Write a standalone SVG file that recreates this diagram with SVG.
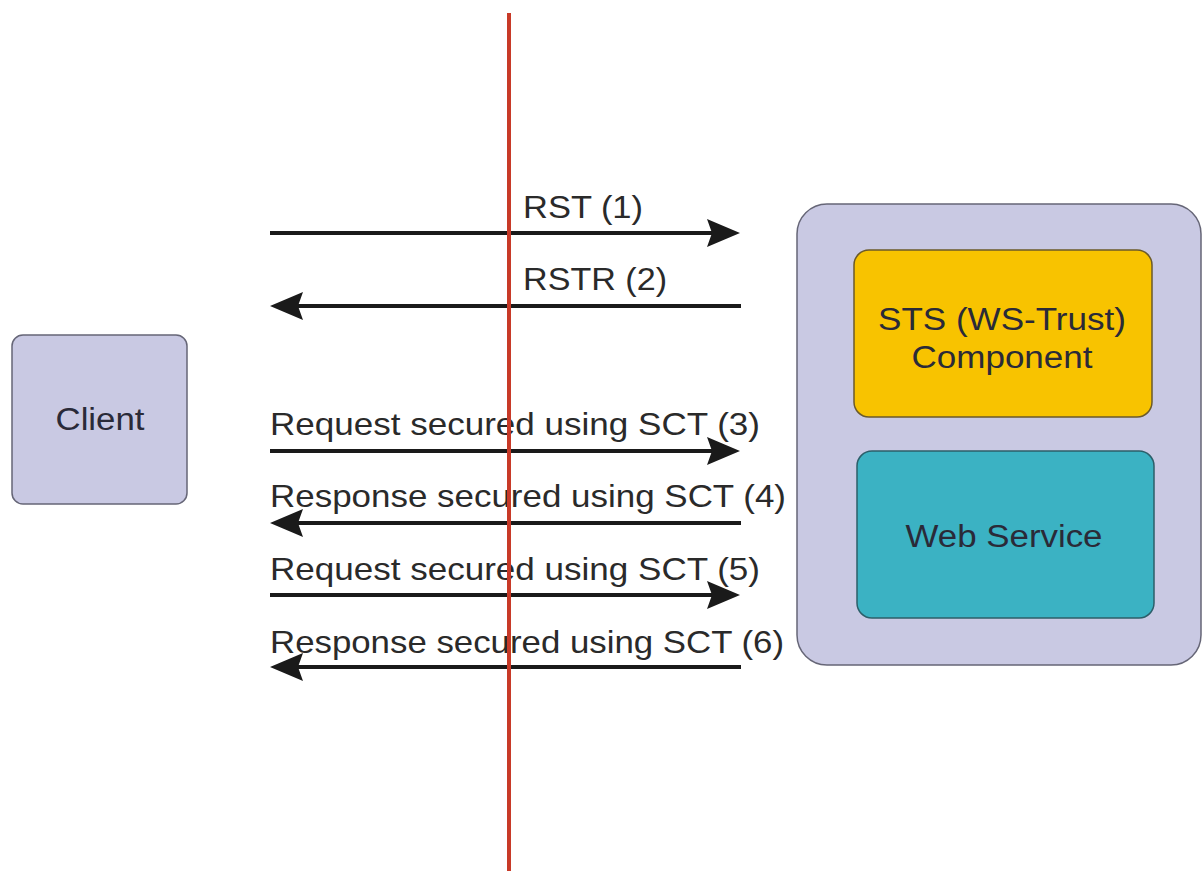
<svg xmlns="http://www.w3.org/2000/svg" width="1204" height="871" viewBox="0 0 1204 871">
<style>
.lbl{font-family:"Liberation Sans",Arial,sans-serif;font-size:32px;fill:#2a2a2a}
.ntext{font-family:"Liberation Sans",Arial,sans-serif;font-size:31px;fill:#2a2a38;text-anchor:middle}
.msg{stroke:#1a1a1a;stroke-width:4;fill:none}
</style>
<defs>
<marker id="ah" markerUnits="userSpaceOnUse" viewBox="0 -14 33 28" markerWidth="33" markerHeight="28" refX="13" refY="0" orient="auto">
<path d="M0,-14 L33,0 L0,14 L5,0 Z" fill="#1a1a1a"/>
</marker>
</defs>
<rect width="1204" height="871" fill="#ffffff"/>
<g id="client">
<rect x="12" y="335" width="175" height="169" rx="11" fill="#c9c9e3" stroke="#666677" stroke-width="1.5"/>
<text class="ntext" x="100" y="430" textLength="89" lengthAdjust="spacingAndGlyphs">Client</text>
</g>
<g id="server">
<rect x="797" y="204" width="404" height="461" rx="30" fill="#c9c9e3" stroke="#666677" stroke-width="1.5"/>
</g>
<g id="sts">
<rect x="854" y="250" width="298" height="167" rx="15" fill="#f8c300" stroke="#6b5a2a" stroke-width="1.5"/>
<text class="ntext" x="1002" y="330" textLength="248" lengthAdjust="spacingAndGlyphs">STS (WS-Trust)</text>
<text class="ntext" x="1002" y="368" textLength="181" lengthAdjust="spacingAndGlyphs">Component</text>
</g>
<g id="webservice">
<rect x="857" y="451" width="297" height="167" rx="15" fill="#3bb2c3" stroke="#2c5f6a" stroke-width="1.5"/>
<text class="ntext" x="1004" y="547" textLength="197" lengthAdjust="spacingAndGlyphs">Web Service</text>
</g>
<g id="connectors">
<line class="msg" x1="270" y1="233" x2="720" y2="233" marker-end="url(#ah)"/>
<line class="msg" x1="741" y1="306" x2="290" y2="306" marker-end="url(#ah)"/>
<line class="msg" x1="270" y1="451" x2="720" y2="451" marker-end="url(#ah)"/>
<line class="msg" x1="741" y1="523" x2="290" y2="523" marker-end="url(#ah)"/>
<line class="msg" x1="270" y1="595" x2="720" y2="595" marker-end="url(#ah)"/>
<line class="msg" x1="741" y1="667" x2="290" y2="667" marker-end="url(#ah)"/>
</g>
<g id="labels">
<text class="lbl" x="523" y="218" textLength="120" lengthAdjust="spacingAndGlyphs">RST (1)</text>
<text class="lbl" x="523" y="290" textLength="144" lengthAdjust="spacingAndGlyphs">RSTR (2)</text>
<text class="lbl" x="270" y="435" textLength="490" lengthAdjust="spacingAndGlyphs">Request secured using SCT (3)</text>
<text class="lbl" x="270" y="507" textLength="516" lengthAdjust="spacingAndGlyphs">Response secured using SCT (4)</text>
<text class="lbl" x="270" y="580" textLength="490" lengthAdjust="spacingAndGlyphs">Request secured using SCT (5)</text>
<text class="lbl" x="270" y="653" textLength="514" lengthAdjust="spacingAndGlyphs">Response secured using SCT (6)</text>
</g>
<g id="boundary">
<line x1="509" y1="13" x2="509" y2="871" stroke="#c83a28" stroke-width="4"/>
</g>
</svg>
